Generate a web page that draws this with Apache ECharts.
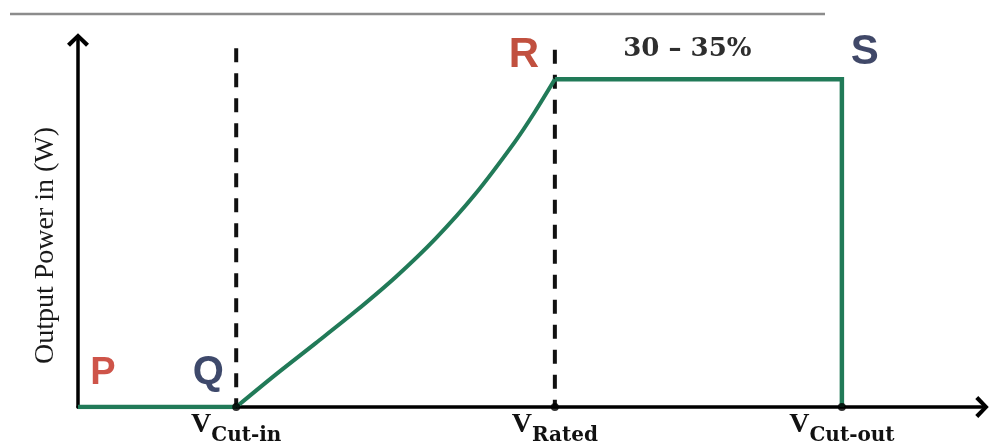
<!DOCTYPE html>
<html>
<head>
<meta charset="utf-8">
<script src="https://cdn.jsdelivr.net/npm/echarts@6/dist/echarts.min.js"></script>
<style>
  html, body { margin: 0; padding: 0; background: #ffffff; }
  #chart { width: 992px; height: 441px; }
</style>
</head>
<body>
<div id="chart"></div>
<script>
// Wind turbine power curve: output power against wind speed

// labelled wind speeds on the horizontal axis
const speedTicks = [3.5, 10.55, 16.9];
const speedTickNames = ['Cut-in', 'Rated', 'Cut-out'];

// zero output below cut-in (P -> Q)
const idleSpeed = [0, 3.5];
const idlePower = [0, 0];

// rising part between cut-in and rated speed (Q -> R)
const rampSpeed = [3.5, 4.38, 5.26, 6.14, 7.03, 7.91, 8.79, 9.67, 10.11, 10.55];
const rampPower = [0, 9.95, 19.5, 29.2, 39.7, 51.4, 65.0, 81.0, 90.1, 100];

// rated output up to cut-out, then shutdown (R -> S -> 0)
const ratedSpeed = [10.55, 16.9, 16.9];
const ratedPower = [100, 100, 0];

// named corner points
const pointNames = ['P', 'Q', 'R', 'S'];
const pointSpeed = [0, 3.5, 10.55, 16.9];
const pointPower = [0, 0, 100, 100];

// dashed guides at cut-in and rated speed
const guideSpeed = [3.5, 10.55];
const guideTop = [109.5, 109];

const ratedNote = '30 – 35%';

const GREEN = '#217a58';
const zip = (xs, ys) => xs.map((x, i) => [x, ys[i]]);

const pointStyles = {
  P: { color: '#c2291b', fontSize: 38, offset: [25, -33] },
  Q: { color: '#0e1b46', fontSize: 40, offset: [-28, -34] },
  R: { color: '#b2240f', fontSize: 42, offset: [-31, -24] },
  S: { color: '#101a42', fontSize: 42, offset: [23, -27] }
};

// open chevron used as the arrow head on both axes
const chevron = 'path://M11,0 L22,10.5 L19,13.5 L11,5.5 L3,13.5 L0,10.5 Z';

const chart = echarts.init(document.getElementById('chart'));

const option = {
  animation: false,
  backgroundColor: '#ffffff',
  grid: { left: 78, right: 10, top: 40, bottom: 34, containLabel: false, outerBoundsMode: 'none' },
  xAxis: {
    type: 'value',
    min: 0,
    max: 20,
    splitLine: { show: false },
    axisTick: { show: false },
    axisLine: {
      show: true,
      symbol: ['none', chevron],
      symbolSize: [22, 13.5],
      lineStyle: { color: '#000', width: 3.5 }
    },
    axisLabel: {
      customValues: speedTicks,
      margin: 4,
      formatter: function (v) {
        let best = 0;
        speedTicks.forEach((t, i) => { if (Math.abs(t - v) < Math.abs(speedTicks[best] - v)) best = i; });
        return '{v|V}{s|' + speedTickNames[best] + '}';
      },
      rich: {
        v: { fontFamily: 'Liberation Serif', fontWeight: 'bold', fontSize: 28, lineHeight: 24, color: '#111', verticalAlign: 'top' },
        s: { fontFamily: 'DejaVu Serif', fontWeight: 'bold', fontSize: 20, lineHeight: 20, color: '#111', verticalAlign: 'top', padding: [15, 0, 0, 0] }
      }
    }
  },
  yAxis: {
    type: 'value',
    min: 0,
    max: 112,
    splitLine: { show: false },
    axisTick: { show: false },
    axisLabel: { show: false },
    axisLine: {
      show: true,
      symbol: ['none', chevron],
      symbolSize: [22, 13.5],
      lineStyle: { color: '#000', width: 3.5 }
    },
    name: 'Output Power in (W)',
    nameLocation: 'middle',
    nameRotate: 90,
    nameGap: 18,
    nameTextStyle: {
      fontFamily: 'Liberation Serif',
      fontSize: 28,
      color: '#1a1a1a',
      padding: [0, 44, 0, 0]
    }
  },
  graphic: [{
    type: 'line',
    shape: { x1: 10, y1: 14, x2: 825, y2: 14 },
    style: { stroke: '#8c8c8c', lineWidth: 2.5 },
    silent: true
  }],
  series: [
    {
      name: 'guide-cut-in',
      type: 'line',
      data: [[guideSpeed[0], guideTop[0]], [guideSpeed[0], 0]],
      symbol: 'none',
      lineStyle: { color: '#111', width: 4, type: [14, 11] },
      z: 1
    },
    {
      name: 'guide-rated',
      type: 'line',
      data: [[guideSpeed[1], guideTop[1]], [guideSpeed[1], 0]],
      symbol: 'none',
      lineStyle: { color: '#111', width: 4, type: [14, 11] },
      z: 1
    },
    {
      name: 'idle',
      type: 'line',
      data: zip(idleSpeed, idlePower),
      symbol: 'none',
      lineStyle: { color: GREEN, width: 4.5 },
      z: 3
    },
    {
      name: 'ramp',
      type: 'line',
      data: zip(rampSpeed, rampPower),
      symbol: 'none',
      smooth: 0.3,
      lineStyle: { color: GREEN, width: 4 },
      z: 3
    },
    {
      name: 'rated',
      type: 'line',
      data: zip(ratedSpeed, ratedPower),
      symbol: 'none',
      lineStyle: { color: GREEN, width: 4.5, join: 'miter' },
      z: 3,
      markLine: {
        silent: true,
        symbol: 'none',
        lineStyle: { color: 'transparent', width: 1 },
        label: {
          show: true,
          position: 'middle',
          distance: 17,
          offset: [-11, 0],
          formatter: ratedNote,
          fontFamily: 'DejaVu Serif',
          fontWeight: 'bold',
          fontSize: 26,
          color: '#2e2e2e'
        },
        data: [[
          { coord: [ratedSpeed[0], ratedPower[0]] },
          { coord: [ratedSpeed[1], ratedPower[1]] }
        ]]
      }
    },
    {
      name: 'ticks',
      type: 'scatter',
      data: speedTicks.map(v => [v, 0]),
      symbol: 'circle',
      symbolSize: 8,
      itemStyle: { color: '#000' },
      z: 4
    },
    {
      name: 'corners',
      type: 'scatter',
      symbolSize: 0,
      z: 5,
      data: pointNames.map((n, i) => ({
        value: [pointSpeed[i], pointPower[i]],
        name: n,
        label: {
          show: true,
          position: 'inside',
          formatter: n,
          fontFamily: 'Liberation Sans',
          fontWeight: 'bold',
          fontSize: pointStyles[n].fontSize,
          color: pointStyles[n].color,
          offset: pointStyles[n].offset
        }
      }))
    }
  ]
};

chart.setOption(option);
</script>
</body>
</html>
